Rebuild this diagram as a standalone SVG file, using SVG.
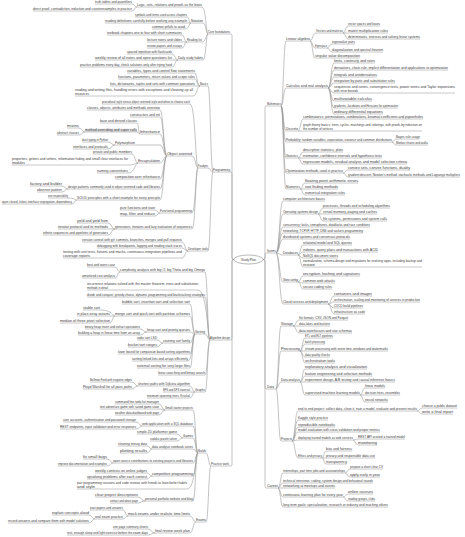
<svg xmlns="http://www.w3.org/2000/svg" width="465" height="537" viewBox="0 0 465 537">
<style>
text{font-family:"Liberation Sans",Arial,sans-serif;font-size:3px;fill:#3a3a3a}
path{stroke:#9a9a9a;stroke-width:.55;fill:none}
#edges path{stroke:#9a9a9a;stroke-width:.6}
</style>
<rect width="465" height="537" fill="#fff"/>
<g id="edges">
<path d="M234 259.5Q232 259.5 232 258V35.5Q232 34 230.5 34H230M234 259.5Q232 259.5 232 258V173.5Q232 172 230.5 172H230M234 259.5Q232 259.5 232 261V338.5Q232 340 230.5 340H230M234 259.5Q232 259.5 232 261V464.5Q232 466 230.5 466H229"/>
<path d="M263 259.5Q265 259.5 265 258V107.5Q265 106 266.5 106H267M263 259.5Q265 259.5 265 258V254.5Q265 253 266.5 253H267M263 259.5Q265 259.5 265 261V387.5Q265 389 266.5 389H267M263 259.5Q265 259.5 265 261V486.5Q265 488 266.5 488H267"/>
<path d="M208 34C206 34 206 7 202 7M208 34C206 34 206 23 203 23M208 34C206 34 206 42 202 42M208 34C206 34 206 60 203 60"/>
<path d="M137 7C134.5 7 134.5 4 132 4M137 7C134.5 7 134.5 11 132 11"/>
<path d="M191 23C189 23 189 17 187 17M191 23H187M191 23C189 23 189 29 185 29"/>
<path d="M187 42C184.5 42 184.5 35 182 35M187 42H182M187 42C184.5 42 184.5 48 182 48"/>
<path d="M178 60C175 60 175 54 172 54M178 60H172M178 60C175 60 175 67 172 67"/>
<path d="M213 172C210.5 172 210.5 86 208 86M213 172C210.5 172 210.5 168 208 168M213 172C210.5 172 210.5 251 208 251"/>
<path d="M200 86C197 86 197 73 195 73M200 86C197 86 197 79 195 79M200 86H195M200 86C197 86 197 96 193 96"/>
<path d="M198 168C195.5 168 195.5 104 190 104M198 168C195.5 168 195.5 156 192 156M198 168C195.5 168 195.5 213 192 213M198 168C195.5 168 195.5 229 192 229"/>
<path d="M167 156C163.5 156 163.5 110 160 110M167 156C163.5 156 163.5 117 160 117M167 156C163.5 156 163.5 134 160 134M167 156C163.5 156 163.5 145 160 145H135M167 156C163.5 156 163.5 163 160 163M167 156C163.5 156 163.5 179 160 179M167 156C163.5 156 163.5 189 160 189M167 156C163.5 156 163.5 200 160 200"/>
<path d="M140 134C138.5 134 138.5 123 137 123M140 134C138.5 134 138.5 132 137 132"/>
<path d="M85 132C82 132 82 128 79 128M85 132C82 132 82 135 79 135"/>
<path d="M115 145C111.5 145 111.5 142 108 142M115 145C111.5 145 111.5 149 108 149"/>
<path d="M138 163C135 163 135 154 132 154M138 163C135 163 135 165 128 165M138 163C135 163 135 173 128 173"/>
<path d="M68 189C65 189 65 186 62 186M68 189C65 189 65 192 62 192"/>
<path d="M77 200C74.5 200 74.5 198 68 198M77 200C74.5 200 74.5 204 72 204"/>
<path d="M160 213C157.5 213 157.5 210 155 210M160 213C157.5 213 157.5 216 155 216"/>
<path d="M115 229C111.5 229 111.5 223 108 223M115 229H108M115 229C111.5 229 111.5 235 108 235"/>
<path d="M188 251C185 251 185 242 182 242M188 251C185 251 185 248 182 248M188 251C185 251 185 258 182 258"/>
<path d="M210 340C207.5 340 207.5 272 205 272M210 340C207.5 340 207.5 290 198 290M210 340C207.5 340 207.5 297 205 297M210 340C207.5 340 207.5 334 205 334M210 340C207.5 340 207.5 375 205 375M210 340C207.5 340 207.5 392 205 392"/>
<path d="M120 272C117.5 272 117.5 267 115 267M120 272C117.5 272 117.5 278 115 278"/>
<path d="M195 334C192.5 334 192.5 304 190 304M195 334C192.5 334 192.5 316 190 316M195 334C192.5 334 192.5 332 190 332M195 334C192.5 334 192.5 343 190 343M195 334C192.5 334 192.5 354 190 354M195 334C192.5 334 192.5 361 188 361M195 334C192.5 334 192.5 368 190 368"/>
<path d="M115 316C112.5 316 112.5 310 100 310M115 316H110M115 316C112.5 316 112.5 323 110 323"/>
<path d="M147 332C143.5 332 143.5 329 140 329M147 332C143.5 332 143.5 335 140 335"/>
<path d="M163 343C160 343 160 340 157 340M163 343C160 343 160 347 157 347"/>
<path d="M195 392C192.5 392 192.5 386 190 386M195 392H190M195 392C192.5 392 192.5 398 190 398"/>
<path d="M138 386C135 386 135 382 132 382M138 386C135 386 135 389 132 389"/>
<path d="M211 466C208.5 466 208.5 453 206 453M211 466C208.5 466 208.5 522 206 522"/>
<path d="M198 453C195.5 453 195.5 410 193 410M198 453C195.5 453 195.5 426 193 426M198 453C195.5 453 195.5 438 193 438M198 453C195.5 453 195.5 449 193 449M198 453C195.5 453 195.5 463 193 463M198 453C195.5 453 195.5 476 193 476M198 453C195.5 453 195.5 489 187 489M198 453C195.5 453 195.5 501 193 501"/>
<path d="M165 410C162 410 162 404 159 404M165 410C162 410 162 409 159 409M165 410C162 410 162 415 159 415"/>
<path d="M142 426C139.5 426 139.5 422 136 422M142 426C139.5 426 139.5 429 136 429"/>
<path d="M183 438C180 438 180 434 177 434M183 438C180 438 180 441 177 441"/>
<path d="M152 449C149.5 449 149.5 446 147 446M152 449C149.5 449 149.5 453 147 453"/>
<path d="M113 463C110.5 463 110.5 459 107 459M113 463C110.5 463 110.5 466 107 466"/>
<path d="M152 476C149.5 476 149.5 473 147 473M152 476C149.5 476 149.5 479 147 479"/>
<path d="M145 501C141.5 501 141.5 497 138 497M145 501C141.5 501 141.5 503 138 503"/>
<path d="M196 522C193 522 193 516 190 516M196 522C193 522 193 533 190 533"/>
<path d="M128 516C125.5 516 125.5 510 123 510M128 516C125.5 516 125.5 519 123 519"/>
<path d="M95 519C92 519 92 515 89 515M95 519C92 519 92 523 89 523"/>
<path d="M155 533C151.5 533 151.5 529 148 529M155 533C151.5 533 151.5 535 148 535"/>
<path d="M281 106C283.5 106 283.5 41 286 41M281 106C283.5 106 283.5 88 286 88M281 106C283.5 106 283.5 131 286 131M281 106C283.5 106 283.5 142 286 142M281 106C283.5 106 283.5 158 286 158M281 106C283.5 106 283.5 173 286 173M281 106C283.5 106 283.5 189 286 189"/>
<path d="M310 41C312.5 41 312.5 33 316 33M310 41C312.5 41 312.5 48 315 48M310 41C312.5 41 312.5 58 315 58"/>
<path d="M343 33C345.5 33 345.5 26 348 26M343 33H348M343 33C345.5 33 345.5 39 348 39"/>
<path d="M327 48C329.5 48 329.5 44 332 44M327 48C329.5 48 329.5 52 332 52"/>
<path d="M328 88C331 88 331 63 334 63M328 88C331 88 331 70 334 70M328 88C331 88 331 77 334 77M328 88C331 88 331 83 334 83M328 88C331 88 331 93 334 93M328 88C331 88 331 101 334 101M328 88C331 88 331 108 334 108M328 88C331 88 331 114 334 114"/>
<path d="M298 131C300.5 131 300.5 119 303 119M298 131H303"/>
<path d="M392 142C394 142 394 139 396 139M392 142C394 142 394 145 396 145"/>
<path d="M298 158C300.5 158 300.5 152 303 152M298 158H303M298 158C300.5 158 300.5 164 303 164"/>
<path d="M343 173C345.5 173 345.5 170 348 170M343 173C345.5 173 345.5 177 348 177"/>
<path d="M300 189C302.5 189 302.5 183 305 183M300 189H305M300 189C302.5 189 302.5 195 305 195"/>
<path d="M276 253C279.5 253 279.5 201 283 201M276 253C279.5 253 279.5 214 283 214M276 253C279.5 253 279.5 227 283 227M276 253C279.5 253 279.5 233 283 233M276 253C279.5 253 279.5 239 283 239M276 253C279.5 253 279.5 255 283 255M276 253C279.5 253 279.5 282 283 282M276 253C279.5 253 279.5 304 283 304"/>
<path d="M318 214C320.5 214 320.5 208 323 208M318 214H323M318 214C320.5 214 320.5 221 323 221"/>
<path d="M298 255C300.5 255 300.5 245 303 245M298 255C300.5 255 300.5 252 303 252M298 255C300.5 255 300.5 258 303 258M298 255C300.5 255 300.5 267 303 267"/>
<path d="M298 282C300.5 282 300.5 276 303 276M298 282C300.5 282 300.5 283 303 283M298 282C300.5 282 300.5 289 303 289"/>
<path d="M328 304C331 304 331 296 334 296M328 304C331 304 331 302 334 302M328 304C331 304 331 308 334 308M328 304C331 304 331 314 334 314"/>
<path d="M276 389C278.5 389 278.5 326 281 326M276 389C278.5 389 278.5 351 281 351M276 389C278.5 389 278.5 382 281 382M276 389C278.5 389 278.5 441 281 441"/>
<path d="M293 326C296 326 296 320 299 320M293 326H299M293 326C296 326 296 333 299 333"/>
<path d="M300 351C302.5 351 302.5 338 305 338M300 351C302.5 351 302.5 344 305 344M300 351H305M300 351C302.5 351 302.5 357 305 357M300 351C302.5 351 302.5 363 305 363"/>
<path d="M300 382C302.5 382 302.5 369 305 369M300 382C302.5 382 302.5 376 305 376M300 382H305M300 382C302.5 382 302.5 395 305 395"/>
<path d="M360 395C362.5 395 362.5 388 365 388M360 395H365M360 395C362.5 395 362.5 402 365 402"/>
<path d="M292 441C295 441 295 411 298 411M292 441C295 441 295 420 298 420M292 441C295 441 295 427 298 427M292 441C295 441 295 432 298 432M292 441C295 441 295 440 298 440M292 441C295 441 295 458 298 458"/>
<path d="M417 411C419.5 411 419.5 408 422 408M417 411C419.5 411 419.5 414 422 414"/>
<path d="M353 440C355.5 440 355.5 439 358 439M353 440C355.5 440 355.5 445 358 445"/>
<path d="M322 458C324 458 324 451 326 451M322 458H326M322 458C324 458 324 464 326 464"/>
<path d="M278 488C280.5 488 280.5 473 283 473M278 488C280.5 488 280.5 483 283 483M278 488H283M278 488C280.5 488 280.5 497 283 497M278 488C280.5 488 280.5 507 283 507"/>
<path d="M345 473C347.5 473 347.5 469 350 469M345 473C347.5 473 347.5 477 350 477"/>
<path d="M343 497C345.5 497 345.5 494 348 494M343 497C345.5 497 345.5 501 348 501"/>
</g>
<g id="root"><ellipse cx="248.5" cy="259.5" rx="14.5" ry="4.5" fill="#fff" stroke="#888" stroke-width=".6"/><text x="241" y="260.6" textLength="15" lengthAdjust="spacingAndGlyphs">Study Plan</text></g>
<g id="L1"><text x="208" y="33" textLength="22" lengthAdjust="spacingAndGlyphs">Core foundations</text><path d="M208 34H230"/></g>
<g id="C1"><text x="137" y="6" textLength="65" lengthAdjust="spacingAndGlyphs">Logic, sets, relations and proofs as the basis</text><path d="M137 7H202"/></g>
<g id="C1a"><text x="95" y="3" textLength="37" lengthAdjust="spacingAndGlyphs">truth tables and quantifiers</text><path d="M95 4H132"/></g>
<g id="C1b"><text x="33" y="10" textLength="99" lengthAdjust="spacingAndGlyphs">direct proof, contradiction, induction and counterexamples in practice</text><path d="M33 11H132"/></g>
<g id="C2"><text x="191" y="22" textLength="12" lengthAdjust="spacingAndGlyphs">Notation</text><path d="M191 23H203"/></g>
<g id="C2a"><text x="135" y="16" textLength="52" lengthAdjust="spacingAndGlyphs">symbols and terms used across chapters</text><path d="M135 17H187"/></g>
<g id="C2b"><text x="105" y="22" textLength="82" lengthAdjust="spacingAndGlyphs">reading definitions carefully before working any example</text><path d="M105 23H187"/></g>
<g id="C2c"><text x="152" y="28" textLength="33" lengthAdjust="spacingAndGlyphs">common pitfalls to avoid</text><path d="M152 29H185"/></g>
<g id="C3"><text x="187" y="41" textLength="15" lengthAdjust="spacingAndGlyphs">Reading list</text><path d="M187 42H202"/></g>
<g id="C3a"><text x="107" y="34" textLength="75" lengthAdjust="spacingAndGlyphs">textbook chapters one to four with short summaries</text><path d="M107 35H182"/></g>
<g id="C3b"><text x="147" y="41" textLength="35" lengthAdjust="spacingAndGlyphs">lecture notes and slides</text><path d="M147 42H182"/></g>
<g id="C3c"><text x="147" y="47" textLength="35" lengthAdjust="spacingAndGlyphs">review papers and essays</text><path d="M147 48H182"/></g>
<g id="C4"><text x="178" y="59" textLength="25" lengthAdjust="spacingAndGlyphs">Daily study habits</text><path d="M178 60H203"/></g>
<g id="C4a"><text x="127" y="53" textLength="45" lengthAdjust="spacingAndGlyphs">spaced repetition with flashcards</text><path d="M127 54H172"/></g>
<g id="C4b"><text x="95" y="59" textLength="77" lengthAdjust="spacingAndGlyphs">weekly review of all notes and open questions list</text><path d="M95 60H172"/></g>
<g id="C4c"><text x="80" y="66" textLength="92" lengthAdjust="spacingAndGlyphs">practice problems every day, check solutions only after trying hard</text><path d="M80 67H172"/></g>
<g id="L2"><text x="213" y="171" textLength="17" lengthAdjust="spacingAndGlyphs">Programming</text><path d="M213 172H230"/></g>
<g id="B1"><text x="200" y="85" textLength="8" lengthAdjust="spacingAndGlyphs">Basics</text><path d="M200 86H208"/></g>
<g id="B1a"><text x="127" y="72" textLength="68" lengthAdjust="spacingAndGlyphs">variables, types and control flow statements</text><path d="M127 73H195"/></g>
<g id="B1b"><text x="118" y="78" textLength="77" lengthAdjust="spacingAndGlyphs">functions, parameters, return values and scope rules</text><path d="M118 79H195"/></g>
<g id="B1c"><text x="110" y="85" textLength="85" lengthAdjust="spacingAndGlyphs">lists, dictionaries, tuples and sets with common operations</text><path d="M110 86H195"/></g>
<g id="B1d"><text x="75" y="91" textLength="118" lengthAdjust="spacingAndGlyphs">reading and writing files, handling errors with exceptions and cleaning up all</text><text x="75" y="95" textLength="14" lengthAdjust="spacingAndGlyphs">resources</text><path d="M75 96H193"/></g>
<g id="B2"><text x="198" y="167" textLength="10" lengthAdjust="spacingAndGlyphs">Paradigms</text><path d="M198 168H208"/></g>
<g id="B2a"><text x="102" y="103" textLength="88" lengthAdjust="spacingAndGlyphs">procedural style versus object oriented style and when to choose each</text><path d="M102 104H190"/></g>
<g id="M"><text x="167" y="155" textLength="25" lengthAdjust="spacingAndGlyphs">Object oriented</text><path d="M167 156H192"/></g>
<g id="M1"><text x="87" y="109" textLength="73" lengthAdjust="spacingAndGlyphs">classes, objects, attributes and methods overview</text><path d="M87 110H160"/></g>
<g id="M2"><text x="130" y="116" textLength="30" lengthAdjust="spacingAndGlyphs">constructors and init</text><path d="M130 117H160"/></g>
<g id="N1"><text x="140" y="133" textLength="20" lengthAdjust="spacingAndGlyphs">Inheritance</text><path d="M140 134H160"/></g>
<g id="N1a"><text x="100" y="122" textLength="37" lengthAdjust="spacingAndGlyphs">base and derived classes</text><path d="M100 123H137"/></g>
<g id="N2"><rect x="85" y="128.6" width="52" height="3.4" fill="#e2e2e2"/><text x="85" y="131" textLength="52" lengthAdjust="spacingAndGlyphs">method overriding and super calls</text><path d="M85 132H137"/></g>
<g id="N2a"><text x="67" y="127" textLength="12" lengthAdjust="spacingAndGlyphs">mixins</text><path d="M67 128H79"/></g>
<g id="N2b"><text x="57" y="134" textLength="22" lengthAdjust="spacingAndGlyphs">abstract classes</text><path d="M57 135H79"/></g>
<g id="N3"><text x="115" y="144" textLength="20" lengthAdjust="spacingAndGlyphs">Polymorphism</text><path d="M115 145H135"/></g>
<g id="N3a"><text x="82" y="141" textLength="26" lengthAdjust="spacingAndGlyphs">duck typing in Python</text><path d="M82 142H108"/></g>
<g id="N3b"><text x="73" y="148" textLength="35" lengthAdjust="spacingAndGlyphs">interfaces and protocols</text><path d="M73 149H108"/></g>
<g id="N4"><text x="138" y="162" textLength="22" lengthAdjust="spacingAndGlyphs">Encapsulation</text><path d="M138 163H160"/></g>
<g id="N4a"><text x="93" y="153" textLength="39" lengthAdjust="spacingAndGlyphs">private and public members</text><path d="M93 154H132"/></g>
<g id="N4b"><text x="12" y="160" textLength="116" lengthAdjust="spacingAndGlyphs">properties, getters and setters, information hiding and small clear interfaces for</text><text x="12" y="164" textLength="13" lengthAdjust="spacingAndGlyphs">modules</text><path d="M12 165H128"/></g>
<g id="N4c"><text x="97" y="172" textLength="31" lengthAdjust="spacingAndGlyphs">naming conventions</text><path d="M97 173H128"/></g>
<g id="M3"><text x="115" y="178" textLength="45" lengthAdjust="spacingAndGlyphs">composition over inheritance</text><path d="M115 179H160"/></g>
<g id="N5"><text x="68" y="188" textLength="92" lengthAdjust="spacingAndGlyphs">design patterns commonly used in object oriented code and libraries</text><path d="M68 189H160"/></g>
<g id="N5a"><text x="30" y="185" textLength="32" lengthAdjust="spacingAndGlyphs">factory and builder</text><path d="M30 186H62"/></g>
<g id="N5b"><text x="37" y="191" textLength="25" lengthAdjust="spacingAndGlyphs">observer pattern</text><path d="M37 192H62"/></g>
<g id="N6"><text x="77" y="199" textLength="83" lengthAdjust="spacingAndGlyphs">SOLID principles with a short example for every principle</text><path d="M77 200H160"/></g>
<g id="N6a"><text x="48" y="197" textLength="20" lengthAdjust="spacingAndGlyphs">one responsibility</text><path d="M48 198H68"/></g>
<g id="N6b"><text x="2" y="203" textLength="70" lengthAdjust="spacingAndGlyphs">open closed, liskov, interface segregation, dependency</text><path d="M2 204H72"/></g>
<g id="N7"><text x="160" y="212" textLength="32" lengthAdjust="spacingAndGlyphs">Functional programming</text><path d="M160 213H192"/></g>
<g id="N7a"><text x="120" y="209" textLength="35" lengthAdjust="spacingAndGlyphs">pure functions and state</text><path d="M120 210H155"/></g>
<g id="N7b"><text x="120" y="215" textLength="35" lengthAdjust="spacingAndGlyphs">map, filter and reduce</text><path d="M120 216H155"/></g>
<g id="N8"><text x="115" y="228" textLength="77" lengthAdjust="spacingAndGlyphs">generators, iterators and lazy evaluation of sequences</text><path d="M115 229H192"/></g>
<g id="N8a"><text x="77" y="222" textLength="31" lengthAdjust="spacingAndGlyphs">yield and yield from</text><path d="M77 223H108"/></g>
<g id="N8b"><text x="58" y="228" textLength="50" lengthAdjust="spacingAndGlyphs">iterator protocol and its methods</text><path d="M58 229H108"/></g>
<g id="N8c"><text x="43" y="234" textLength="65" lengthAdjust="spacingAndGlyphs">infinite sequences and pipelines of generators</text><path d="M43 235H108"/></g>
<g id="B3"><text x="188" y="250" textLength="20" lengthAdjust="spacingAndGlyphs">Developer tools</text><path d="M188 251H208"/></g>
<g id="B3a"><text x="82" y="241" textLength="100" lengthAdjust="spacingAndGlyphs">version control with git: commits, branches, merges and pull requests</text><path d="M82 242H182"/></g>
<g id="B3b"><text x="97" y="247" textLength="85" lengthAdjust="spacingAndGlyphs">debugging with breakpoints, logging and reading stack traces</text><path d="M97 248H182"/></g>
<g id="B3c"><text x="63" y="253" textLength="119" lengthAdjust="spacingAndGlyphs">testing with unit tests, fixtures and mocks, continuous integration pipelines and</text><text x="63" y="257" textLength="27" lengthAdjust="spacingAndGlyphs">coverage reports</text><path d="M63 258H182"/></g>
<g id="L3"><text x="210" y="339" textLength="20" lengthAdjust="spacingAndGlyphs">Algorithm design</text><path d="M210 340H230"/></g>
<g id="D1"><text x="120" y="271" textLength="85" lengthAdjust="spacingAndGlyphs">complexity analysis with big O, big Theta and big Omega</text><path d="M120 272H205"/></g>
<g id="D1a"><text x="87" y="266" textLength="28" lengthAdjust="spacingAndGlyphs">best and worst case</text><path d="M87 267H115"/></g>
<g id="D1b"><text x="82" y="277" textLength="33" lengthAdjust="spacingAndGlyphs">amortized cost analysis</text><path d="M82 278H115"/></g>
<g id="D0"><text x="87" y="285" textLength="111" lengthAdjust="spacingAndGlyphs">recurrence relations solved with the master theorem, trees and substitution</text><text x="87" y="289" textLength="21" lengthAdjust="spacingAndGlyphs">methods in detail</text><path d="M87 290H198"/></g>
<g id="D0b"><text x="87" y="296" textLength="118" lengthAdjust="spacingAndGlyphs">divide and conquer, greedy choice, dynamic programming and backtracking strategies</text><path d="M87 297H205"/></g>
<g id="D2"><text x="195" y="333" textLength="10" lengthAdjust="spacingAndGlyphs">Sorting</text><path d="M195 334H205"/></g>
<g id="D2x"><text x="122" y="303" textLength="68" lengthAdjust="spacingAndGlyphs">bubble sort, insertion sort and selection sort</text><path d="M122 304H190"/></g>
<g id="D2a"><text x="115" y="315" textLength="75" lengthAdjust="spacingAndGlyphs">merge sort and quick sort with partition schemes</text><path d="M115 316H190"/></g>
<g id="D2a1"><text x="83" y="309" textLength="17" lengthAdjust="spacingAndGlyphs">stable sort</text><path d="M83 310H100"/></g>
<g id="D2a2"><text x="77" y="315" textLength="33" lengthAdjust="spacingAndGlyphs">in place array variants</text><path d="M77 316H110"/></g>
<g id="D2a3"><text x="60" y="322" textLength="50" lengthAdjust="spacingAndGlyphs">median of three pivot selection</text><path d="M60 323H110"/></g>
<g id="D2b"><text x="147" y="331" textLength="43" lengthAdjust="spacingAndGlyphs">heap sort and priority queues</text><path d="M147 332H190"/></g>
<g id="D2b1"><text x="85" y="328" textLength="55" lengthAdjust="spacingAndGlyphs">binary heap insert and extract operations</text><path d="M85 329H140"/></g>
<g id="D2b2"><text x="78" y="334" textLength="62" lengthAdjust="spacingAndGlyphs">building a heap in linear time from an array</text><path d="M78 335H140"/></g>
<g id="D2c"><text x="163" y="342" textLength="27" lengthAdjust="spacingAndGlyphs">counting sort family</text><path d="M163 343H190"/></g>
<g id="D2c1"><text x="137" y="339" textLength="20" lengthAdjust="spacingAndGlyphs">radix sort LSD</text><path d="M137 340H157"/></g>
<g id="D2c2"><text x="128" y="346" textLength="29" lengthAdjust="spacingAndGlyphs">bucket sort ranges</text><path d="M128 347H157"/></g>
<g id="D2d"><text x="118" y="353" textLength="72" lengthAdjust="spacingAndGlyphs">lower bound for comparison based sorting algorithms</text><path d="M118 354H190"/></g>
<g id="D2e"><text x="132" y="360" textLength="56" lengthAdjust="spacingAndGlyphs">sorting linked lists and arrays efficiently</text><path d="M132 361H188"/></g>
<g id="D2f"><text x="137" y="367" textLength="53" lengthAdjust="spacingAndGlyphs">external sorting for very large files</text><path d="M137 368H190"/></g>
<g id="D4"><text x="158" y="374" textLength="47" lengthAdjust="spacingAndGlyphs">linear searching and binary search</text><path d="M158 375H205"/></g>
<g id="D3"><text x="195" y="391" textLength="10" lengthAdjust="spacingAndGlyphs">Graphs</text><path d="M195 392H205"/></g>
<g id="D3a"><text x="138" y="385" textLength="52" lengthAdjust="spacingAndGlyphs">shortest paths with Dijkstra algorithm</text><path d="M138 386H190"/></g>
<g id="D3a1"><text x="90" y="381" textLength="42" lengthAdjust="spacingAndGlyphs">Bellman Ford with negative edges</text><path d="M90 382H132"/></g>
<g id="D3a2"><text x="83" y="388" textLength="49" lengthAdjust="spacingAndGlyphs">Floyd Warshall for all pairs paths</text><path d="M83 389H132"/></g>
<g id="D3b"><text x="163" y="391" textLength="27" lengthAdjust="spacingAndGlyphs">BFS and DFS traversal</text><path d="M163 392H190"/></g>
<g id="D3c"><text x="147" y="397" textLength="43" lengthAdjust="spacingAndGlyphs">minimum spanning trees, Kruskal</text><path d="M147 398H190"/></g>
<g id="L4"><text x="211" y="465" textLength="18" lengthAdjust="spacingAndGlyphs">Practice work</text><path d="M211 466H229"/></g>
<g id="E1"><text x="198" y="452" textLength="8" lengthAdjust="spacingAndGlyphs">Builds</text><path d="M198 453H206"/></g>
<g id="E1a"><text x="165" y="409" textLength="28" lengthAdjust="spacingAndGlyphs">Small starter projects</text><path d="M165 410H193"/></g>
<g id="E1a1"><text x="115" y="403" textLength="44" lengthAdjust="spacingAndGlyphs">command line todo list manager</text><path d="M115 404H159"/></g>
<g id="E1a2"><text x="100" y="408" textLength="59" lengthAdjust="spacingAndGlyphs">text adventure game with saved game state</text><path d="M100 409H159"/></g>
<g id="E1a3"><text x="115" y="414" textLength="44" lengthAdjust="spacingAndGlyphs">weather data dashboard web page</text><path d="M115 415H159"/></g>
<g id="E1b"><text x="142" y="425" textLength="51" lengthAdjust="spacingAndGlyphs">web application with a SQL database</text><path d="M142 426H193"/></g>
<g id="E1b1"><text x="63" y="421" textLength="73" lengthAdjust="spacingAndGlyphs">user accounts, authentication and password storage</text><path d="M63 422H136"/></g>
<g id="E1b2"><text x="60" y="428" textLength="76" lengthAdjust="spacingAndGlyphs">REST endpoints, input validation and error responses</text><path d="M60 429H136"/></g>
<g id="E1c"><text x="183" y="437" textLength="10" lengthAdjust="spacingAndGlyphs">Games</text><path d="M183 438H193"/></g>
<g id="E1c1"><text x="137" y="433" textLength="40" lengthAdjust="spacingAndGlyphs">simple 2D platformer game</text><path d="M137 434H177"/></g>
<g id="E1c2"><text x="150" y="440" textLength="27" lengthAdjust="spacingAndGlyphs">sudoku puzzle solver</text><path d="M150 441H177"/></g>
<g id="E1d"><text x="152" y="448" textLength="41" lengthAdjust="spacingAndGlyphs">data analysis notebook series</text><path d="M152 449H193"/></g>
<g id="E1d1"><text x="118" y="445" textLength="29" lengthAdjust="spacingAndGlyphs">cleaning messy data</text><path d="M118 446H147"/></g>
<g id="E1d2"><text x="120" y="452" textLength="27" lengthAdjust="spacingAndGlyphs">plotting results</text><path d="M120 453H147"/></g>
<g id="E1e"><text x="113" y="462" textLength="80" lengthAdjust="spacingAndGlyphs">open source contributions to existing projects and libraries</text><path d="M113 463H193"/></g>
<g id="E1e1"><text x="83" y="458" textLength="24" lengthAdjust="spacingAndGlyphs">fix small bugs</text><path d="M83 459H107"/></g>
<g id="E1e2"><text x="58" y="465" textLength="49" lengthAdjust="spacingAndGlyphs">improve documentation and examples</text><path d="M58 466H107"/></g>
<g id="E1f"><text x="152" y="475" textLength="41" lengthAdjust="spacingAndGlyphs">competitive programming</text><path d="M152 476H193"/></g>
<g id="E1f1"><text x="95" y="472" textLength="52" lengthAdjust="spacingAndGlyphs">weekly contests on online judges</text><path d="M95 473H147"/></g>
<g id="E1f2"><text x="87" y="478" textLength="60" lengthAdjust="spacingAndGlyphs">upsolving problems after each contest</text><path d="M87 479H147"/></g>
<g id="E1h"><text x="77" y="484" textLength="110" lengthAdjust="spacingAndGlyphs">pair programming sessions and code reviews with friends to learn better habits</text><text x="77" y="488" textLength="18" lengthAdjust="spacingAndGlyphs">and style</text><path d="M77 489H187"/></g>
<g id="E1g"><text x="145" y="500" textLength="48" lengthAdjust="spacingAndGlyphs">personal portfolio website and blog</text><path d="M145 501H193"/></g>
<g id="E1g1"><text x="95" y="496" textLength="43" lengthAdjust="spacingAndGlyphs">clear project descriptions</text><path d="M95 497H138"/></g>
<g id="E1g2"><text x="110" y="502" textLength="28" lengthAdjust="spacingAndGlyphs">contact and about page</text><path d="M110 503H138"/></g>
<g id="E2"><text x="196" y="521" textLength="10" lengthAdjust="spacingAndGlyphs">Exams</text><path d="M196 522H206"/></g>
<g id="E2a"><text x="128" y="515" textLength="62" lengthAdjust="spacingAndGlyphs">mock exams under realistic time limits</text><path d="M128 516H190"/></g>
<g id="E2a1"><text x="90" y="509" textLength="33" lengthAdjust="spacingAndGlyphs">past papers and answers</text><path d="M90 510H123"/></g>
<g id="E2b"><text x="95" y="518" textLength="28" lengthAdjust="spacingAndGlyphs">oral exam practice</text><path d="M95 519H123"/></g>
<g id="E2b1"><text x="52" y="514" textLength="37" lengthAdjust="spacingAndGlyphs">explain concepts aloud</text><path d="M52 515H89"/></g>
<g id="E2b2"><text x="8" y="522" textLength="81" lengthAdjust="spacingAndGlyphs">record answers and compare them with model solutions</text><path d="M8 523H89"/></g>
<g id="E2c"><text x="155" y="532" textLength="35" lengthAdjust="spacingAndGlyphs">final review week plan</text><path d="M155 533H190"/></g>
<g id="E2c1"><text x="113" y="528" textLength="35" lengthAdjust="spacingAndGlyphs">one page summary sheets</text><path d="M113 529H148"/></g>
<g id="E2c2"><text x="67" y="534" textLength="81" lengthAdjust="spacingAndGlyphs">rest, enough sleep and light exercise before the exam days</text><path d="M67 535H148"/></g>
<g id="R1"><text x="267" y="105" textLength="14" lengthAdjust="spacingAndGlyphs">Mathematics</text><path d="M267 106H281"/></g>
<g id="R1a"><text x="286" y="40" textLength="24" lengthAdjust="spacingAndGlyphs">Linear algebra</text><path d="M286 41H310"/></g>
<g id="R1a1"><text x="316" y="32" textLength="27" lengthAdjust="spacingAndGlyphs">Vectors and matrices</text><path d="M316 33H343"/></g>
<g id="R1a1a"><text x="348" y="25" textLength="32" lengthAdjust="spacingAndGlyphs">vector spaces and bases</text><path d="M348 26H380"/></g>
<g id="R1a1b"><text x="348" y="32" textLength="40" lengthAdjust="spacingAndGlyphs">matrix multiplication rules</text><path d="M348 33H388"/></g>
<g id="R1a1c"><text x="348" y="38" textLength="72" lengthAdjust="spacingAndGlyphs">determinants, inverses and solving linear systems</text><path d="M348 39H420"/></g>
<g id="R1a2"><text x="315" y="47" textLength="12" lengthAdjust="spacingAndGlyphs">Eigenspace</text><path d="M315 48H327"/></g>
<g id="R1a2a"><text x="332" y="43" textLength="23" lengthAdjust="spacingAndGlyphs">eigenvalue pairs</text><path d="M332 44H355"/></g>
<g id="R1a2b"><text x="332" y="51" textLength="51" lengthAdjust="spacingAndGlyphs">diagonalization and spectral theorem</text><path d="M332 52H383"/></g>
<g id="R1a3"><text x="315" y="57" textLength="45" lengthAdjust="spacingAndGlyphs">singular value decomposition</text><path d="M315 58H360"/></g>
<g id="R1b"><text x="286" y="87" textLength="42" lengthAdjust="spacingAndGlyphs">Calculus and real analysis</text><path d="M286 88H328"/></g>
<g id="R1b1"><text x="334" y="62" textLength="41" lengthAdjust="spacingAndGlyphs">limits, continuity and rates</text><path d="M334 63H375"/></g>
<g id="R1b2"><text x="334" y="69" textLength="114" lengthAdjust="spacingAndGlyphs">derivatives, chain rule, implicit differentiation and applications to optimization</text><path d="M334 70H448"/></g>
<g id="R1b3"><text x="334" y="76" textLength="43" lengthAdjust="spacingAndGlyphs">integrals and antiderivatives</text><path d="M334 77H377"/></g>
<g id="R1b4"><text x="334" y="82" textLength="61" lengthAdjust="spacingAndGlyphs">integration by parts and substitution rules</text><path d="M334 83H395"/></g>
<g id="R1b5"><text x="334" y="88" textLength="121" lengthAdjust="spacingAndGlyphs">sequences and series, convergence tests, power series and Taylor expansions</text><text x="334" y="92" textLength="24" lengthAdjust="spacingAndGlyphs">with error bounds</text><path d="M334 93H455"/></g>
<g id="R1b6"><text x="334" y="100" textLength="38" lengthAdjust="spacingAndGlyphs">multivariable calculus</text><path d="M334 101H372"/></g>
<g id="R1b7"><text x="334" y="107" textLength="64" lengthAdjust="spacingAndGlyphs">gradients, Jacobians and Hessians for optimization</text><path d="M334 108H398"/></g>
<g id="R1b8"><text x="334" y="113" textLength="49" lengthAdjust="spacingAndGlyphs">ordinary differential equations</text><path d="M334 114H383"/></g>
<g id="R1c"><text x="286" y="130" textLength="12" lengthAdjust="spacingAndGlyphs">Discrete</text><path d="M286 131H298"/></g>
<g id="R1c1"><text x="303" y="118" textLength="120" lengthAdjust="spacingAndGlyphs">combinatorics: permutations, combinations, binomial coefficients and pigeonholes</text><path d="M303 119H423"/></g>
<g id="R1c2"><text x="303" y="126" textLength="119" lengthAdjust="spacingAndGlyphs">graph theory basics: trees, cycles, matchings and colorings, with proofs by induction on</text><text x="303" y="130" textLength="30" lengthAdjust="spacingAndGlyphs">the number of vertices</text><path d="M303 131H422"/></g>
<g id="R1d"><text x="286" y="141" textLength="106" lengthAdjust="spacingAndGlyphs">Probability: random variables, expectation, variance and common distributions</text><path d="M286 142H392"/></g>
<g id="R1d1"><text x="396" y="138" textLength="24" lengthAdjust="spacingAndGlyphs">Bayes rule usage</text><path d="M396 139H420"/></g>
<g id="R1d2"><text x="396" y="144" textLength="32" lengthAdjust="spacingAndGlyphs">Markov chains and walks</text><path d="M396 145H428"/></g>
<g id="R1e"><text x="286" y="157" textLength="12" lengthAdjust="spacingAndGlyphs">Statistics</text><path d="M286 158H298"/></g>
<g id="R1e1"><text x="303" y="151" textLength="40" lengthAdjust="spacingAndGlyphs">descriptive statistics, plots</text><path d="M303 152H343"/></g>
<g id="R1e2"><text x="303" y="157" textLength="79" lengthAdjust="spacingAndGlyphs">estimation, confidence intervals and hypothesis tests</text><path d="M303 158H382"/></g>
<g id="R1e3"><text x="303" y="163" textLength="104" lengthAdjust="spacingAndGlyphs">regression models, residual analysis and model selection criteria</text><path d="M303 164H407"/></g>
<g id="R1f"><text x="286" y="172" textLength="57" lengthAdjust="spacingAndGlyphs">Optimization methods used in practice</text><path d="M286 173H343"/></g>
<g id="R1f1"><text x="348" y="169" textLength="62" lengthAdjust="spacingAndGlyphs">convex sets, convex functions, duality</text><path d="M348 170H410"/></g>
<g id="R1f2"><text x="348" y="176" textLength="112" lengthAdjust="spacingAndGlyphs">gradient descent, Newton's method, stochastic methods and Lagrange multipliers</text><path d="M348 177H460"/></g>
<g id="R1g"><text x="286" y="188" textLength="14" lengthAdjust="spacingAndGlyphs">Numerics</text><path d="M286 189H300"/></g>
<g id="R1g1"><text x="305" y="182" textLength="53" lengthAdjust="spacingAndGlyphs">floating point arithmetic errors</text><path d="M305 183H358"/></g>
<g id="R1g2"><text x="305" y="188" textLength="33" lengthAdjust="spacingAndGlyphs">root finding methods</text><path d="M305 189H338"/></g>
<g id="R1g3"><text x="305" y="194" textLength="40" lengthAdjust="spacingAndGlyphs">numerical integration rules</text><path d="M305 195H345"/></g>
<g id="R2"><text x="267" y="252" textLength="9" lengthAdjust="spacingAndGlyphs">Systems</text><path d="M267 253H276"/></g>
<g id="R2x"><text x="283" y="200" textLength="42" lengthAdjust="spacingAndGlyphs">computer architecture basics</text><path d="M283 201H325"/></g>
<g id="R2a"><text x="283" y="213" textLength="35" lengthAdjust="spacingAndGlyphs">Operating systems design</text><path d="M283 214H318"/></g>
<g id="R2a1"><text x="323" y="207" textLength="67" lengthAdjust="spacingAndGlyphs">processes, threads and scheduling algorithms</text><path d="M323 208H390"/></g>
<g id="R2a2"><text x="323" y="213" textLength="54" lengthAdjust="spacingAndGlyphs">virtual memory, paging and caches</text><path d="M323 214H377"/></g>
<g id="R2a3"><text x="323" y="220" textLength="64" lengthAdjust="spacingAndGlyphs">file systems, permissions and system calls</text><path d="M323 221H387"/></g>
<g id="R2y"><text x="283" y="226" textLength="87" lengthAdjust="spacingAndGlyphs">concurrency: locks, semaphores, deadlocks and race conditions</text><path d="M283 227H370"/></g>
<g id="R2z"><text x="283" y="232" textLength="80" lengthAdjust="spacingAndGlyphs">networking: TCP/IP, HTTP, DNS and sockets programming</text><path d="M283 233H363"/></g>
<g id="R2w"><text x="283" y="238" textLength="67" lengthAdjust="spacingAndGlyphs">distributed systems and consensus protocols</text><path d="M283 239H350"/></g>
<g id="R2b"><text x="283" y="254" textLength="15" lengthAdjust="spacingAndGlyphs">Databases</text><path d="M283 255H298"/></g>
<g id="R2b1"><text x="303" y="244" textLength="49" lengthAdjust="spacingAndGlyphs">relational model and SQL queries</text><path d="M303 245H352"/></g>
<g id="R2b2"><text x="303" y="251" textLength="75" lengthAdjust="spacingAndGlyphs">indexes, query plans and transactions with ACID</text><path d="M303 252H378"/></g>
<g id="R2b3"><text x="303" y="257" textLength="35" lengthAdjust="spacingAndGlyphs">NoSQL document stores</text><path d="M303 258H338"/></g>
<g id="R2b4"><text x="303" y="262" textLength="119" lengthAdjust="spacingAndGlyphs">normalization, schema design and migrations for evolving apps, including backup and</text><text x="303" y="266" textLength="12" lengthAdjust="spacingAndGlyphs">restore</text><path d="M303 267H422"/></g>
<g id="R2c"><text x="283" y="281" textLength="15" lengthAdjust="spacingAndGlyphs">Security</text><path d="M283 282H298"/></g>
<g id="R2c1"><text x="303" y="275" textLength="57" lengthAdjust="spacingAndGlyphs">encryption, hashing and signatures</text><path d="M303 276H360"/></g>
<g id="R2c2"><text x="303" y="282" textLength="32" lengthAdjust="spacingAndGlyphs">common web attacks</text><path d="M303 283H335"/></g>
<g id="R2c3"><text x="303" y="288" textLength="29" lengthAdjust="spacingAndGlyphs">secure coding rules</text><path d="M303 289H332"/></g>
<g id="R2d"><text x="283" y="303" textLength="45" lengthAdjust="spacingAndGlyphs">Cloud services and deployment</text><path d="M283 304H328"/></g>
<g id="R2d1"><text x="334" y="295" textLength="38" lengthAdjust="spacingAndGlyphs">containers and images</text><path d="M334 296H372"/></g>
<g id="R2d2"><text x="334" y="301" textLength="86" lengthAdjust="spacingAndGlyphs">orchestration, scaling and monitoring of services in production</text><path d="M334 302H420"/></g>
<g id="R2d3"><text x="334" y="307" textLength="29" lengthAdjust="spacingAndGlyphs">CI/CD build pipelines</text><path d="M334 308H363"/></g>
<g id="R2d4"><text x="334" y="313" textLength="31" lengthAdjust="spacingAndGlyphs">infrastructure as code</text><path d="M334 314H365"/></g>
<g id="R3"><text x="267" y="388" textLength="7" lengthAdjust="spacingAndGlyphs">Data</text><path d="M267 389H276"/></g>
<g id="R3a"><text x="281" y="325" textLength="12" lengthAdjust="spacingAndGlyphs">Storage</text><path d="M281 326H293"/></g>
<g id="R3a1"><text x="299" y="319" textLength="49" lengthAdjust="spacingAndGlyphs">file formats: CSV, JSON and Parquet</text><path d="M299 320H348"/></g>
<g id="R3a2"><text x="299" y="325" textLength="31" lengthAdjust="spacingAndGlyphs">data lakes and buckets</text><path d="M299 326H330"/></g>
<g id="R3a3"><text x="299" y="332" textLength="53" lengthAdjust="spacingAndGlyphs">data warehouses and star schemas</text><path d="M299 333H352"/></g>
<g id="R3b"><text x="281" y="350" textLength="19" lengthAdjust="spacingAndGlyphs">Processing</text><path d="M281 351H300"/></g>
<g id="R3b1"><text x="305" y="337" textLength="28" lengthAdjust="spacingAndGlyphs">ETL and ELT pipelines</text><path d="M305 338H333"/></g>
<g id="R3b2"><text x="305" y="343" textLength="20" lengthAdjust="spacingAndGlyphs">batch processing</text><path d="M305 344H325"/></g>
<g id="R3b3"><text x="305" y="350" textLength="83" lengthAdjust="spacingAndGlyphs">stream processing with event time, windows and watermarks</text><path d="M305 351H388"/></g>
<g id="R3b4"><text x="305" y="356" textLength="25" lengthAdjust="spacingAndGlyphs">data quality checks</text><path d="M305 357H330"/></g>
<g id="R3b5"><text x="305" y="362" textLength="30" lengthAdjust="spacingAndGlyphs">orchestration tools</text><path d="M305 363H335"/></g>
<g id="R3c"><text x="281" y="381" textLength="19" lengthAdjust="spacingAndGlyphs">Data analysis</text><path d="M281 382H300"/></g>
<g id="R3c2"><text x="305" y="368" textLength="62" lengthAdjust="spacingAndGlyphs">exploratory analysis and visualization</text><path d="M305 369H367"/></g>
<g id="R3c3"><text x="305" y="375" textLength="67" lengthAdjust="spacingAndGlyphs">feature engineering and selection methods</text><path d="M305 376H372"/></g>
<g id="R3c4"><text x="305" y="381" textLength="90" lengthAdjust="spacingAndGlyphs">experiment design, A/B testing and causal inference basics</text><path d="M305 382H395"/></g>
<g id="R3c1"><text x="305" y="394" textLength="55" lengthAdjust="spacingAndGlyphs">supervised machine learning models</text><path d="M305 395H360"/></g>
<g id="R3c1a"><text x="365" y="387" textLength="20" lengthAdjust="spacingAndGlyphs">linear models</text><path d="M365 388H385"/></g>
<g id="R3c1b"><text x="365" y="394" textLength="35" lengthAdjust="spacingAndGlyphs">decision trees, ensembles</text><path d="M365 395H400"/></g>
<g id="R3c1c"><text x="365" y="401" textLength="23" lengthAdjust="spacingAndGlyphs">neural networks</text><path d="M365 402H388"/></g>
<g id="R3d"><text x="281" y="440" textLength="11" lengthAdjust="spacingAndGlyphs">Projects</text><path d="M281 441H292"/></g>
<g id="R3d1"><text x="298" y="410" textLength="119" lengthAdjust="spacingAndGlyphs">end to end project: collect data, clean it, train a model, evaluate and present results</text><path d="M298 411H417"/></g>
<g id="R3d1a"><text x="422" y="407" textLength="35" lengthAdjust="spacingAndGlyphs">choose a public dataset</text><path d="M422 408H457"/></g>
<g id="R3d1b"><text x="422" y="413" textLength="31" lengthAdjust="spacingAndGlyphs">write a final report</text><path d="M422 414H453"/></g>
<g id="R3d4"><text x="298" y="419" textLength="30" lengthAdjust="spacingAndGlyphs">Kaggle style practice</text><path d="M298 420H328"/></g>
<g id="R3d5"><text x="298" y="426" textLength="37" lengthAdjust="spacingAndGlyphs">reproducible notebooks</text><path d="M298 427H335"/></g>
<g id="R3d6"><text x="298" y="431" textLength="82" lengthAdjust="spacingAndGlyphs">model evaluation with cross validation and proper metrics</text><path d="M298 432H380"/></g>
<g id="R3d2"><text x="298" y="439" textLength="55" lengthAdjust="spacingAndGlyphs">deploying trained models as web services</text><path d="M298 440H353"/></g>
<g id="R3d2a"><text x="358" y="438" textLength="47" lengthAdjust="spacingAndGlyphs">REST API around a trained model</text><path d="M358 439H405"/></g>
<g id="R3d2b"><text x="358" y="444" textLength="19" lengthAdjust="spacingAndGlyphs">monitoring</text><path d="M358 445H377"/></g>
<g id="R3d3"><text x="298" y="457" textLength="24" lengthAdjust="spacingAndGlyphs">Ethics and privacy</text><path d="M298 458H322"/></g>
<g id="R3d3a"><text x="326" y="450" textLength="26" lengthAdjust="spacingAndGlyphs">bias and fairness</text><path d="M326 451H352"/></g>
<g id="R3d3b"><text x="326" y="457" textLength="49" lengthAdjust="spacingAndGlyphs">privacy and responsible data use</text><path d="M326 458H375"/></g>
<g id="R3d3c"><text x="326" y="463" textLength="21" lengthAdjust="spacingAndGlyphs">transparency</text><path d="M326 464H347"/></g>
<g id="R4"><text x="267" y="487" textLength="11" lengthAdjust="spacingAndGlyphs">Career</text><path d="M267 488H278"/></g>
<g id="R4a"><text x="283" y="472" textLength="62" lengthAdjust="spacingAndGlyphs">internships, part time jobs and assistantships</text><path d="M283 473H345"/></g>
<g id="R4a1"><text x="350" y="468" textLength="33" lengthAdjust="spacingAndGlyphs">prepare a short clear CV</text><path d="M350 469H383"/></g>
<g id="R4a2"><text x="350" y="476" textLength="30" lengthAdjust="spacingAndGlyphs">apply early in year</text><path d="M350 477H380"/></g>
<g id="R4x"><text x="283" y="482" textLength="90" lengthAdjust="spacingAndGlyphs">technical interviews: coding, system design and behavioral rounds</text><path d="M283 483H373"/></g>
<g id="R4y"><text x="283" y="487" textLength="52" lengthAdjust="spacingAndGlyphs">networking at meetups and events</text><path d="M283 488H335"/></g>
<g id="R4b"><text x="283" y="496" textLength="60" lengthAdjust="spacingAndGlyphs">continuous learning plan for every year</text><path d="M283 497H343"/></g>
<g id="R4b1"><text x="348" y="493" textLength="25" lengthAdjust="spacingAndGlyphs">online courses</text><path d="M348 494H373"/></g>
<g id="R4b2"><text x="348" y="500" textLength="27" lengthAdjust="spacingAndGlyphs">reading groups, clubs</text><path d="M348 501H375"/></g>
<g id="R4z"><text x="283" y="506" textLength="105" lengthAdjust="spacingAndGlyphs">long term goals: specialization, research or industry and teaching others</text><path d="M283 507H388"/></g>
</svg>
